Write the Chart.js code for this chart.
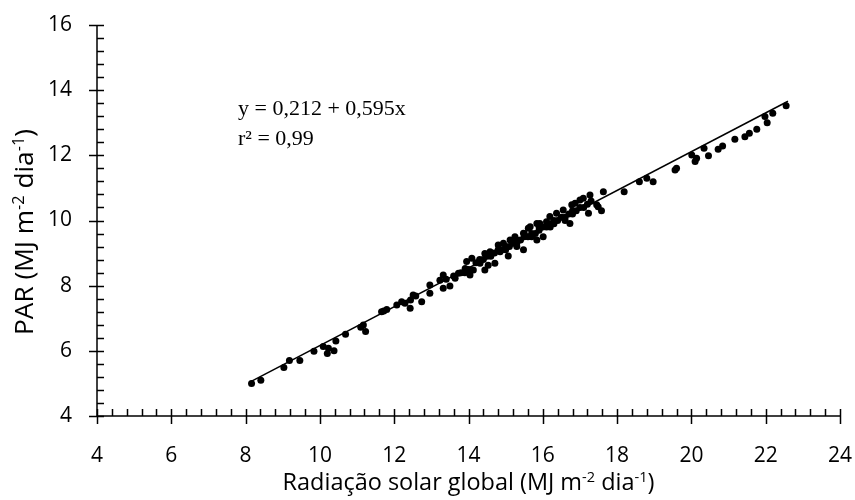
<!DOCTYPE html>
<html>
<head>
<meta charset="utf-8">
<script src="https://cdn.jsdelivr.net/npm/chart.js@4/dist/chart.umd.min.js"></script>
<style>
html,body{margin:0;padding:0;background:#fff;}
#wrap{width:855px;height:500px;}
</style>
</head>
<body>
<div id="wrap"><canvas id="c" width="855" height="500"></canvas></div>
<script>
// ---- data ----
const xValues = [
 8.16,8.41,9.03,9.18,9.46,9.84,10.09,10.20,10.23,10.38,10.43,10.69,11.10,11.17,11.23,11.66,11.80,11.72,
 12.07,12.20,12.29,12.43,12.51,12.44,12.58,12.74,12.96,12.96,13.23,13.32,13.32,13.50,13.64,13.73,13.91,
 13.95,14.09,14.04,14.13,14.31,14.44,14.44,14.53,14.58,14.71,14.80,14.85,14.94,15.07,15.12,15.25,15.30,
 15.48,15.48,15.61,15.84,15.84,16.01,16.10,15.66,15.92,16.19,16.37,16.55,16.73,16.78,16.87,17.00,17.09,
 17.27,17.23,17.45,17.49,17.58,17.63,18.19,18.60,18.80,18.97,19.56,19.60,20.01,20.10,20.14,20.34,20.46,
 20.72,20.84,21.17,21.44,21.56,21.76,21.98,22.04,22.19,22.55,
 14.2,14.3,14.5,14.6,14.7,14.8,14.9,15.0,15.1,15.2,15.3,15.4,15.5,15.6,15.7,15.8,15.9,16.0,16.1,16.2,
 16.3,16.4,16.5,16.6,16.7,16.8,16.9,17.0,17.1,17.2,14.4,14.6,15.0,15.3,15.7,16.2,16.6,13.8,13.9,14.0,
 13.6,13.4,15.5,15.9,16.3,16.8,17.3
];
const yValues = [
 5.00,5.10,5.49,5.70,5.70,5.99,6.13,5.92,6.08,6.00,6.30,6.51,6.72,6.79,6.59,7.20,7.27,7.22,
 7.41,7.51,7.46,7.31,7.71,7.56,7.68,7.51,7.77,8.02,8.17,8.33,7.92,7.99,8.23,8.38,8.53,
 8.74,8.84,8.33,8.48,8.69,8.99,8.48,8.63,9.04,8.69,9.25,9.04,9.30,8.91,9.40,9.50,9.20,
 9.10,9.61,9.76,9.40,9.91,9.50,9.96,9.81,9.91,10.12,10.22,10.32,9.91,10.48,10.53,10.63,10.68,
 10.78,10.22,10.48,10.42,10.30,10.88,10.88,11.19,11.30,11.19,11.55,11.60,12.01,11.81,11.91,12.22,11.99,
 12.19,12.29,12.49,12.57,12.68,12.80,13.19,13.00,13.29,13.52,
 8.7,8.8,8.9,8.9,9.0,9.1,9.1,9.2,9.2,9.3,9.4,9.4,9.5,9.5,9.6,9.6,9.7,9.8,9.8,9.9,
 9.9,10.0,10.1,10.1,10.2,10.2,10.3,10.4,10.4,10.5,8.8,9.0,9.1,9.3,9.5,9.8,10.0,8.4,8.4,8.5,
 8.3,8.2,9.6,9.8,10.0,10.3,10.6
];
const fitX = [8.1, 22.6];
const fitY = [5.03, 13.66];
const xTicks = {min:4, max:24, step:2, minor:0.4};
const yTicks = {min:4, max:16, step:2, minor:0.4};
const equationLines = ["y = 0,212 + 0,595x", "r² = 0,99"];
const xTitle = [["Radiação solar global (MJ m",0],["-2",1],[" dia",0],["-1",1],[")",0]];
const yTitle = [["PAR (MJ m",0],["-2",1],[" dia",0],["-1",1],[")",0]];

const FONT = "'Open Sans', sans-serif";
const points = xValues.map((x,i)=>({x:x, y:yValues[i]}));
const fit = fitX.map((x,i)=>({x:x, y:fitY[i]}));

function richWidth(ctx, segs, size){
  let w=0;
  segs.forEach(s=>{ctx.font=(s[1]?size*0.62:size)+"px "+FONT; w+=ctx.measureText(s[0]).width;});
  return w;
}
function fitSize(ctx, segs, target){
  return 20*target/richWidth(ctx, segs, 20);
}
function drawRich(ctx, segs, cx, cy, size){
  const w = richWidth(ctx, segs, size);
  let x = cx - w/2;
  ctx.textBaseline='alphabetic';
  ctx.textAlign='left';
  segs.forEach(s=>{
    const sz = s[1]?size*0.62:size;
    ctx.font = sz+"px "+FONT;
    ctx.fillText(s[0], x, cy + (s[1]? -size*0.36 : 0));
    x += ctx.measureText(s[0]).width;
  });
}

const axisPlugin = {
  id:'axisPlugin',
  afterDraw(chart){
    const ctx = chart.ctx, xs = chart.scales.x, ys = chart.scales.y, a = chart.chartArea;
    const left = xs.getPixelForValue(xTicks.min), bottom = ys.getPixelForValue(yTicks.min);
    ctx.save();
    ctx.strokeStyle='#000'; ctx.lineWidth=1.5;
    ctx.beginPath();
    ctx.moveTo(left, ys.getPixelForValue(yTicks.max)); ctx.lineTo(left, bottom);
    ctx.lineTo(xs.getPixelForValue(xTicks.max), bottom);
    ctx.stroke();
    ctx.beginPath();
    const nx = Math.round((xTicks.max-xTicks.min)/xTicks.minor);
    const per = Math.round(xTicks.step/xTicks.minor);
    for(let i=0;i<=nx;i++){
      const px = Math.round(xs.getPixelForValue(xTicks.min+i*xTicks.minor))+0.5;
      if(i%per===0){ ctx.moveTo(px,bottom-7); ctx.lineTo(px,bottom+8); }
      else { ctx.moveTo(px,bottom-7); ctx.lineTo(px,bottom); }
    }
    const ny = Math.round((yTicks.max-yTicks.min)/yTicks.minor);
    const pery = Math.round(yTicks.step/yTicks.minor);
    for(let i=0;i<=ny;i++){
      const py = Math.round(ys.getPixelForValue(yTicks.min+i*yTicks.minor))+0.5;
      if(i%pery===0){ ctx.moveTo(left-8,py); ctx.lineTo(left+7,py); }
      else { ctx.moveTo(left,py); ctx.lineTo(left+7,py); }
    }
    ctx.stroke();
    ctx.fillStyle='#000';
    // axis titles
    drawRich(ctx, xTitle, (a.left+a.right)/2, 490, fitSize(ctx, xTitle, 372));
    ctx.save();
    ctx.translate(33, 232);
    ctx.rotate(-Math.PI/2);
    drawRich(ctx, yTitle, 0, 0, fitSize(ctx, yTitle, 206));
    ctx.restore();
    // equation
    ctx.font = "22px 'Liberation Serif', 'Times New Roman', serif";
    ctx.textAlign='left'; ctx.textBaseline='alphabetic';
    ctx.fillText(equationLines[0], a.left+141, 115);
    ctx.fillText(equationLines[1], a.left+141, 145);
    ctx.restore();
  }
};

new Chart(document.getElementById('c'), {
  type:'scatter',
  data:{datasets:[
    {type:'line', data:fit, borderColor:'#000', borderWidth:1.5, pointRadius:0, fill:false, tension:0, order:1},
    {data:points, backgroundColor:'#000', borderColor:'#000', pointRadius:3.5, pointBorderWidth:0, order:2}
  ]},
  options:{
    responsive:false, animation:false, devicePixelRatio:1,
    layout:{padding:{left:0, right:15, top:25, bottom:0}},
    plugins:{legend:{display:false}, tooltip:{enabled:false}},
    scales:{
      x:{type:'linear', min:xTicks.min, max:xTicks.max,
        ticks:{stepSize:xTicks.step, color:'#000', font:{family:FONT, size:21}, padding:27, maxRotation:0},
        grid:{display:false, drawTicks:false}, border:{display:false},
        afterFit(s){ s.height = 84; s.paddingLeft = 0; s.paddingRight = 0; }
      },
      y:{type:'linear', min:yTicks.min, max:yTicks.max,
        ticks:{stepSize:yTicks.step, color:'#000', font:{family:FONT, size:21}, padding:25},
        grid:{display:false, drawTicks:false}, border:{display:false},
        afterFit(s){ s.width = 97; s.paddingTop = 0; s.paddingBottom = 0; }
      }
    }
  },
  plugins:[axisPlugin]
});
</script>
</body>
</html>
